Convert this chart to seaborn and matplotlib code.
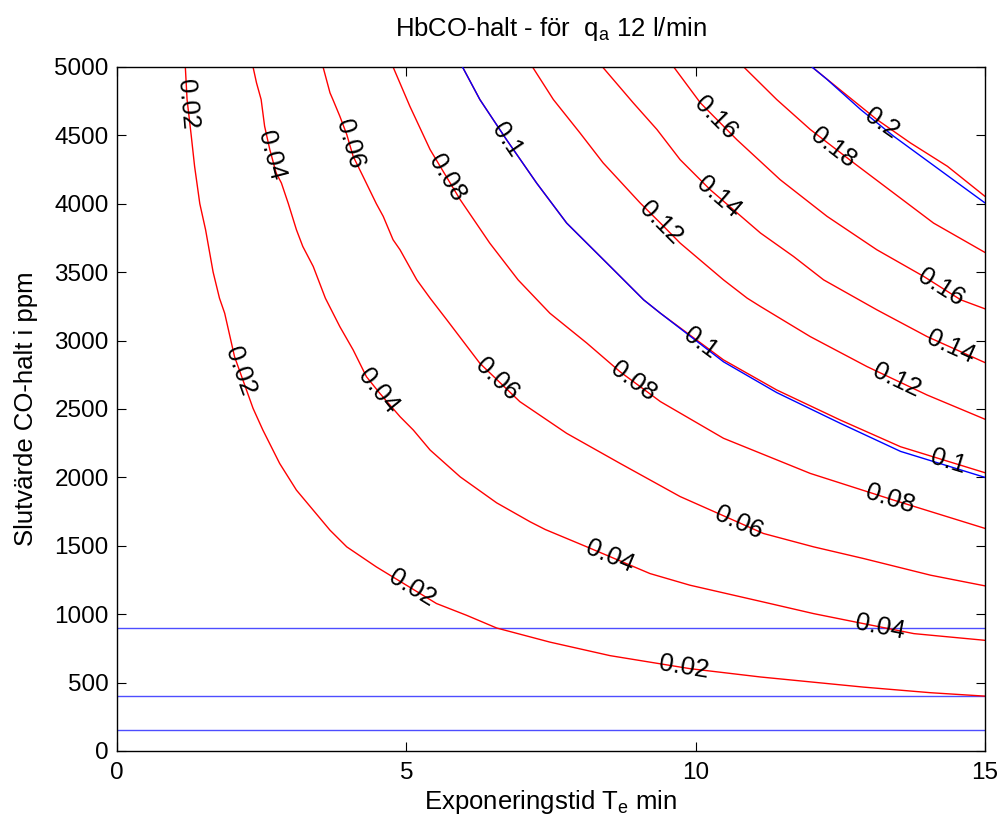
import numpy as np
import matplotlib
matplotlib.use('Agg')
import matplotlib.pyplot as plt
import seaborn as sns

# HbCO level curves, exposure time T (min) vs final CO concentration (ppm)
levels = [0.02, 0.04, 0.06, 0.08, 0.1, 0.12, 0.14, 0.16, 0.18, 0.2]

t_002 = [1.18, 1.21, 1.28, 1.34, 1.43, 1.53, 1.66, 1.77, 1.86, 2.03, 2.35, 2.52, 2.81, 3.10,
         3.68, 3.97, 4.48, 5.52, 6.04, 6.56, 7.48, 8.52, 9.90, 11.12, 12.90, 14.06, 15.0]
c_002 = [5000, 4762, 4506, 4274, 4001, 3810, 3501, 3310, 3200, 2883, 2505, 2346, 2102, 1907,
         1614, 1492, 1346, 1078, 992, 899, 796, 697, 602, 541, 467, 426, 401]

t_004 = [2.35, 2.41, 2.49, 2.55, 2.64, 2.75, 2.84, 2.96, 3.10, 3.21, 3.39, 3.60, 3.85, 4.08,
         4.31, 4.54, 4.89, 5.12, 5.41, 5.93, 6.56, 7.14, 7.40, 8.12, 9.21, 9.90, 11.17, 12.04,
         12.90, 13.77, 15.0]
c_004 = [5000, 4884, 4762, 4567, 4396, 4225, 4152, 4001, 3810, 3688, 3542, 3310, 3102, 2932,
         2736, 2615, 2444, 2346, 2200, 2004, 1814, 1675, 1619, 1492, 1297, 1212, 1089, 1004,
         931, 858, 809]

t_006 = [3.56, 3.68, 3.73, 3.85, 3.97, 4.08, 4.25, 4.48, 4.60, 4.77, 4.89, 5.18, 5.41, 5.70,
         6.27, 6.96, 7.77, 8.69, 9.73, 11.17, 12.04, 12.90, 14.06, 15.0]
c_006 = [5000, 4811, 4762, 4640, 4506, 4347, 4201, 4001, 3908, 3737, 3664, 3444, 3310, 3151,
         2834, 2554, 2322, 2103, 1860, 1590, 1492, 1407, 1285, 1207]

t_008 = [4.77, 5.06, 5.41, 5.93, 6.44, 6.93, 7.48, 8.12, 8.69, 9.39, 10.48, 11.98, 13.42, 15.0]
c_008 = [5000, 4713, 4396, 4030, 3713, 3444, 3200, 2981, 2773, 2554, 2286, 2029, 1834, 1627]

t_010 = [5.97, 6.27, 6.73, 7.25, 7.77, 8.58, 9.10, 9.39, 10.48, 11.40, 12.50, 13.54, 15.0]
c_010 = [5000, 4762, 4469, 4152, 3859, 3518, 3298, 3200, 2859, 2639, 2419, 2224, 2034]

t_012 = [7.18, 7.54, 8.00, 8.40, 9.04, 9.39, 9.73, 10.48, 10.89, 11.12, 11.98, 12.96, 14.0, 15.0]
c_012 = [5000, 4762, 4518, 4299, 4006, 3859, 3713, 3444, 3310, 3249, 3029, 2810, 2602, 2425]

t_014 = [8.39, 8.92, 9.33, 9.73, 10.25, 11.12, 11.69, 12.21, 13.13, 14.0, 15.0]
c_014 = [5000, 4738, 4543, 4323, 4103, 3786, 3615, 3444, 3225, 3029, 2839]

t_016 = [9.62, 10.08, 10.71, 11.46, 12.27, 13.13, 13.94, 14.58, 15.0]
c_016 = [5000, 4738, 4469, 4176, 3908, 3664, 3469, 3298, 3232]

t_018 = [10.83, 11.40, 11.98, 12.73, 13.42, 14.11, 15.0]
c_018 = [5000, 4762, 4543, 4299, 4079, 3859, 3644]

t_020 = [12.01, 12.56, 13.13, 13.71, 14.35, 15.0]
c_020 = [5000, 4811, 4616, 4445, 4274, 4054]

# second (blue) set, only 0.1 and 0.2
t_010b = [5.97, 6.27, 6.73, 7.25, 7.77, 8.58, 9.10, 9.39, 10.48, 11.40, 12.50, 13.54, 15.0]
c_010b = [5000, 4762, 4469, 4152, 3859, 3518, 3298, 3200, 2845, 2620, 2395, 2190, 2000]
t_020b = [12.01, 12.27, 12.85, 13.42, 14.29, 15.0]
c_020b = [5000, 4909, 4689, 4494, 4225, 4006]

# horizontal reference concentrations (ppm)
ref_ppm = [900, 400, 150]

# where the inline labels sit along each curve (T, min)
label_t = {
    0.02: [1.22, 2.12, 5.09, 9.79],
    0.04: [2.67, 4.51, 8.52, 13.19],
    0.06: [4.02, 6.56, 10.74],
    0.08: [5.70, 8.92, 13.36],
    0.1: [6.73, 10.08, 14.37],
    0.12: [9.39, 13.48],
    0.14: [10.39, 14.40],
    0.16: [10.34, 14.23],
    0.18: [12.38],
    0.2: [13.22],
}

curves = {
    0.02: (t_002, c_002), 0.04: (t_004, c_004), 0.06: (t_006, c_006),
    0.08: (t_008, c_008), 0.1: (t_010, c_010), 0.12: (t_012, c_012),
    0.14: (t_014, c_014), 0.16: (t_016, c_016), 0.18: (t_018, c_018),
    0.2: (t_020, c_020),
}
blue_curves = [(t_010b, c_010b), (t_020b, c_020b)]


def main():
    sns.set_style('ticks')
    plt.rcParams['font.family'] = ['Liberation Sans', 'DejaVu Sans']
    plt.rcParams['mathtext.fontset'] = 'custom'
    plt.rcParams['mathtext.rm'] = 'Liberation Sans'
    plt.rcParams['text.color'] = 'black'
    plt.rcParams['axes.labelcolor'] = 'black'

    fig = plt.figure(figsize=(10.03, 8.27), dpi=100)
    ax = fig.add_axes([0.1167, 0.0919, 0.8654, 0.8271])

    for y in ref_ppm:
        ax.axhline(y, color='#4d4dff', lw=1.0, zorder=1)

    for lev in levels:
        t, c = curves[lev]
        sns.lineplot(x=t, y=c, color='red', lw=1.0, sort=False, estimator=None, ax=ax, zorder=2)
    for t, c in blue_curves:
        sns.lineplot(x=t, y=c, color='blue', lw=1.0, sort=False, estimator=None, ax=ax, zorder=3)

    ax.set_xlim(0, 15)
    ax.set_ylim(0, 5000)
    ax.set_xticks([0, 5, 10, 15])
    ax.set_yticks(np.arange(0, 5001, 500))

    # inline contour labels, rotated along the curve
    for lev in levels:
        t, c = curves[lev]
        for tl in label_t[lev]:
            cl = np.interp(tl, t, c)
            p0 = ax.transData.transform((tl - 0.05, np.interp(tl - 0.05, t, c)))
            p1 = ax.transData.transform((tl + 0.05, np.interp(tl + 0.05, t, c)))
            ang = np.degrees(np.arctan2(p1[1] - p0[1], p1[0] - p0[0]))
            ax.text(tl, cl, f'{lev:g}', fontsize=18.5, color='black', rotation=ang,
                    rotation_mode='anchor', ha='center', va='center', zorder=4)

    for s in ax.spines.values():
        s.set_visible(True)
        s.set_color('black')
        s.set_linewidth(1.0)
    ax.tick_params(direction='in', top=True, right=True, length=6.5, width=0.8,
                   labelsize=17.5, colors='black')
    ax.tick_params(axis='x', pad=8)
    ax.tick_params(axis='y', pad=6)

    ax.set_xlabel(r'Exponeringstid T$_\mathregular{e}$ min', fontsize=18.5, labelpad=3)
    ax.set_ylabel('Slutvärde CO-halt i ppm', fontsize=18.5, labelpad=12)
    ax.set_title(r'HbCO-halt - för  q$_\mathregular{a}$ 12 l/min', fontsize=18.5, pad=22)

    fig.savefig('out.png', dpi=100)


if __name__ == '__main__':
    main()
